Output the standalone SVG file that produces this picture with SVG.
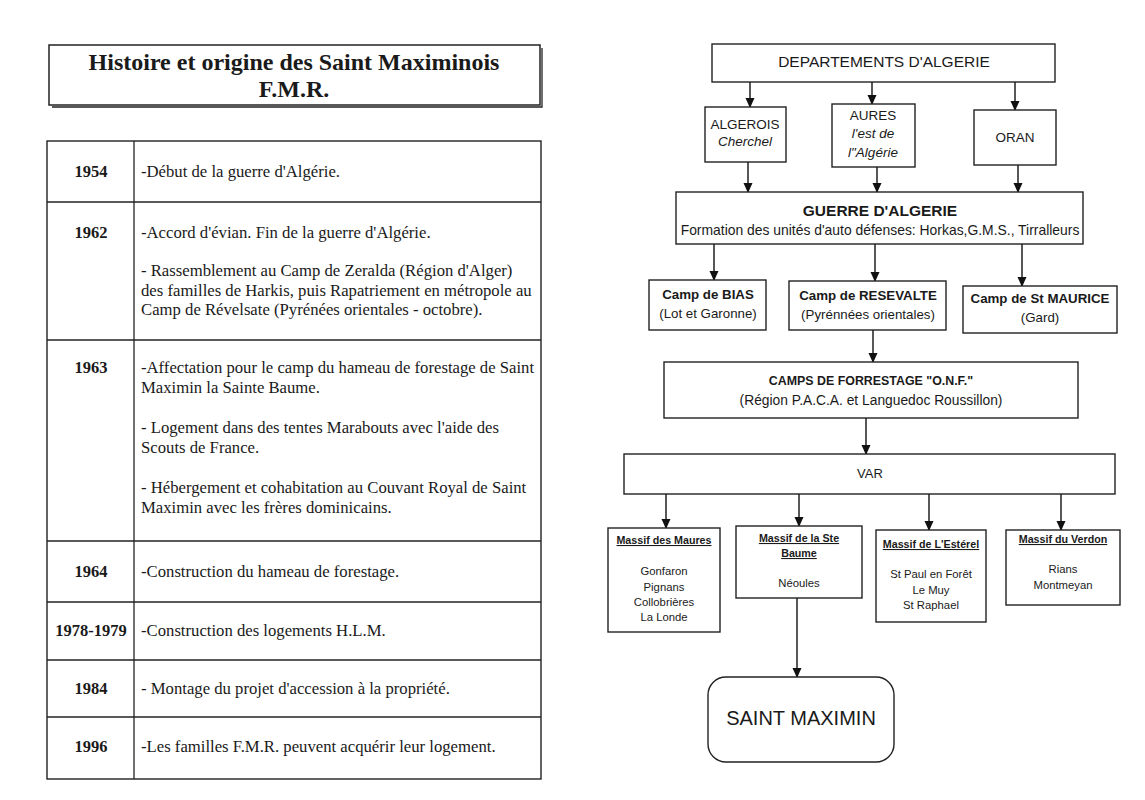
<svg xmlns="http://www.w3.org/2000/svg" width="1145" height="800" viewBox="0 0 1145 800">
<defs>
<marker id="ah" markerWidth="10" markerHeight="10" refX="9" refY="5" orient="auto" markerUnits="userSpaceOnUse">
<path d="M0,0.5 L10,5 L0,9.5 Z" fill="#111"/>
</marker>
<style>
.box{fill:#fff;stroke:#222;stroke-width:1.4}
.ln{stroke:#222;stroke-width:1.3;fill:none}
.conn{stroke:#111;stroke-width:1.4;fill:none;marker-end:url(#ah)}
.ser{font-family:"Liberation Serif","Times New Roman",serif;fill:#1a1a1a}
.yr{font-family:"Liberation Serif","Times New Roman",serif;font-weight:bold;font-size:16.5px;fill:#1a1a1a;text-anchor:middle}
.d{font-family:"Liberation Serif","Times New Roman",serif;font-size:16.7px;fill:#1a1a1a}
.s{font-family:"Liberation Sans",Arial,sans-serif;fill:#1a1a1a;text-anchor:middle}
.sb{font-family:"Liberation Sans",Arial,sans-serif;font-weight:bold;fill:#1a1a1a;text-anchor:middle}
</style>
</defs>
<rect width="1145" height="800" fill="#fff"/>

<g id="title">
<rect x="49" y="45" width="491" height="60" fill="#fff" stroke="#222" stroke-width="1.5"/>
<path d="M52,107 H542 V48" class="ln" stroke-width="3"/>
<text class="ser" x="294" y="70" font-size="24" font-weight="bold" text-anchor="middle">Histoire et origine des Saint Maximinois</text>
<text class="ser" x="294" y="97" font-size="24" font-weight="bold" text-anchor="middle">F.M.R.</text>
</g>

<g id="table">
<rect x="47" y="141" width="494" height="638" class="box"/>
<line x1="134" y1="141" x2="134" y2="779" class="ln"/>
<line x1="47" y1="202" x2="541" y2="202" class="ln"/>
<line x1="47" y1="340" x2="541" y2="340" class="ln"/>
<line x1="47" y1="541" x2="541" y2="541" class="ln"/>
<line x1="47" y1="602" x2="541" y2="602" class="ln"/>
<line x1="47" y1="660" x2="541" y2="660" class="ln"/>
<line x1="47" y1="717" x2="541" y2="717" class="ln"/>

<text class="yr" x="91" y="177">1954</text>
<text class="d" x="141" y="177">-Début de la guerre d'Algérie.</text>

<text class="yr" x="91" y="238">1962</text>
<text class="d" x="141" y="238">-Accord d'évian. Fin de la guerre d'Algérie.</text>
<text class="d" x="141" y="276">- Rassemblement au Camp de Zeralda (Région d'Alger)</text>
<text class="d" x="141" y="296">des familles de Harkis, puis Rapatriement en métropole au</text>
<text class="d" x="141" y="315">Camp de Révelsate (Pyrénées orientales - octobre).</text>

<text class="yr" x="91" y="373">1963</text>
<text class="d" x="141" y="373">-Affectation pour le camp du hameau de forestage de Saint</text>
<text class="d" x="141" y="393">Maximin la Sainte Baume.</text>
<text class="d" x="141" y="433">- Logement dans des tentes Marabouts avec l'aide des</text>
<text class="d" x="141" y="453">Scouts de France.</text>
<text class="d" x="141" y="493">- Hébergement et cohabitation au Couvant Royal de Saint</text>
<text class="d" x="141" y="513">Maximin avec les frères dominicains.</text>

<text class="yr" x="91" y="577">1964</text>
<text class="d" x="141" y="577">-Construction du hameau de forestage.</text>

<text class="yr" x="91" y="636">1978-1979</text>
<text class="d" x="141" y="636">-Construction des logements H.L.M.</text>

<text class="yr" x="91" y="694">1984</text>
<text class="d" x="141" y="694">- Montage du projet d'accession à la propriété.</text>

<text class="yr" x="91" y="752">1996</text>
<text class="d" x="141" y="752">-Les familles F.M.R. peuvent acquérir leur logement.</text>
</g>

<g id="connectors">
<line x1="750" y1="82" x2="750" y2="107" class="conn"/>
<line x1="872" y1="82" x2="872" y2="104" class="conn"/>
<line x1="1015" y1="82" x2="1015" y2="110" class="conn"/>
<line x1="748" y1="162" x2="748" y2="192" class="conn"/>
<line x1="877" y1="167" x2="877" y2="192" class="conn"/>
<line x1="1018" y1="165" x2="1018" y2="192" class="conn"/>
<line x1="714" y1="244" x2="714" y2="280" class="conn"/>
<line x1="875" y1="244" x2="875" y2="281" class="conn"/>
<line x1="1022" y1="244" x2="1022" y2="286" class="conn"/>
<line x1="873" y1="330" x2="873" y2="362" class="conn"/>
<line x1="866" y1="418" x2="866" y2="454" class="conn"/>
<line x1="666" y1="494" x2="666" y2="528" class="conn"/>
<line x1="799" y1="494" x2="799" y2="526" class="conn"/>
<line x1="929" y1="494" x2="929" y2="530" class="conn"/>
<line x1="1061" y1="494" x2="1061" y2="530" class="conn"/>
<line x1="797" y1="598" x2="797" y2="677" class="conn"/>
</g>

<g id="departements">
<rect x="712" y="44" width="343" height="38" class="box"/>
<text class="s" x="884" y="67" font-size="15.5">DEPARTEMENTS D'ALGERIE</text>
</g>
<g id="algerois">
<rect x="705" y="107" width="81" height="55" class="box"/>
<text class="s" x="745" y="129" font-size="13.5">ALGEROIS</text>
<text class="s" x="745" y="146" font-size="13.5" font-style="italic">Cherchel</text>
</g>
<g id="aures">
<rect x="832" y="104" width="83" height="63" class="box"/>
<text class="s" x="873" y="120" font-size="13.5">AURES</text>
<text class="s" x="873" y="138" font-size="13.5" font-style="italic">l'est de</text>
<text class="s" x="873" y="157" font-size="13.5" font-style="italic">l"Algérie</text>
</g>
<g id="oran">
<rect x="974" y="110" width="82" height="55" class="box"/>
<text class="s" x="1015" y="142" font-size="13.5">ORAN</text>
</g>
<g id="guerre">
<rect x="676" y="192" width="407" height="52" class="box"/>
<text class="sb" x="880" y="216" font-size="15.5">GUERRE D'ALGERIE</text>
<text class="s" x="880" y="235" font-size="13.9">Formation des unités d'auto défenses: Horkas,G.M.S., Tirralleurs</text>
</g>
<g id="bias">
<rect x="649" y="280" width="117" height="50" class="box"/>
<text class="sb" x="708" y="299" font-size="13.3">Camp de BIAS</text>
<text class="s" x="708" y="318" font-size="13.3">(Lot et Garonne)</text>
</g>
<g id="resevalte">
<rect x="789" y="281" width="157" height="49" class="box"/>
<text class="sb" x="868" y="300" font-size="13.3">Camp de RESEVALTE</text>
<text class="s" x="868" y="319" font-size="13.3">(Pyrénnées orientales)</text>
</g>
<g id="stmaurice">
<rect x="963" y="286" width="154" height="47" class="box"/>
<text class="sb" x="1040" y="303" font-size="13.3">Camp de St MAURICE</text>
<text class="s" x="1040" y="322" font-size="13.3">(Gard)</text>
</g>
<g id="forrestage">
<rect x="664" y="362" width="414" height="56" class="box"/>
<text class="sb" x="871" y="385" font-size="12.4">CAMPS DE FORRESTAGE "O.N.F."</text>
<text class="s" x="871" y="405" font-size="13.8">(Région P.A.C.A. et Languedoc Roussillon)</text>
</g>
<g id="var">
<rect x="624" y="454" width="491" height="40" class="box"/>
<text class="s" x="870" y="478" font-size="13">VAR</text>
</g>
<g id="maures">
<rect x="608" y="528" width="112" height="104" class="box"/>
<text class="sb" x="664" y="544" font-size="10.7" text-decoration="underline">Massif des Maures</text>
<text class="s" x="664" y="575" font-size="11.3">Gonfaron</text>
<text class="s" x="664" y="591" font-size="11.3">Pignans</text>
<text class="s" x="664" y="606" font-size="11.3">Collobrières</text>
<text class="s" x="664" y="621" font-size="11.3">La Londe</text>
</g>
<g id="stebaume">
<rect x="736" y="526" width="126" height="72" class="box"/>
<text class="sb" x="799" y="542" font-size="10.7" text-decoration="underline">Massif de la Ste</text>
<text class="sb" x="799" y="557" font-size="10.7" text-decoration="underline">Baume</text>
<text class="s" x="799" y="587" font-size="11.3">Néoules</text>
</g>
<g id="esterel">
<rect x="876" y="530" width="110" height="92" class="box"/>
<text class="sb" x="931" y="548" font-size="10.7" text-decoration="underline">Massif de L'Estérel</text>
<text class="s" x="931" y="578" font-size="11.3">St Paul en Forêt</text>
<text class="s" x="931" y="594" font-size="11.3">Le Muy</text>
<text class="s" x="931" y="609" font-size="11.3">St Raphael</text>
</g>
<g id="verdon">
<rect x="1006" y="530" width="114" height="75" class="box"/>
<text class="sb" x="1063" y="543" font-size="10.7" text-decoration="underline">Massif du Verdon</text>
<text class="s" x="1063" y="573" font-size="11.3">Rians</text>
<text class="s" x="1063" y="589" font-size="11.3">Montmeyan</text>
</g>
<g id="saintmaximin">
<rect x="708" y="677" width="186" height="85" rx="18" ry="18" class="box"/>
<text class="s" x="801" y="725" font-size="20">SAINT MAXIMIN</text>
</g>
</svg>
